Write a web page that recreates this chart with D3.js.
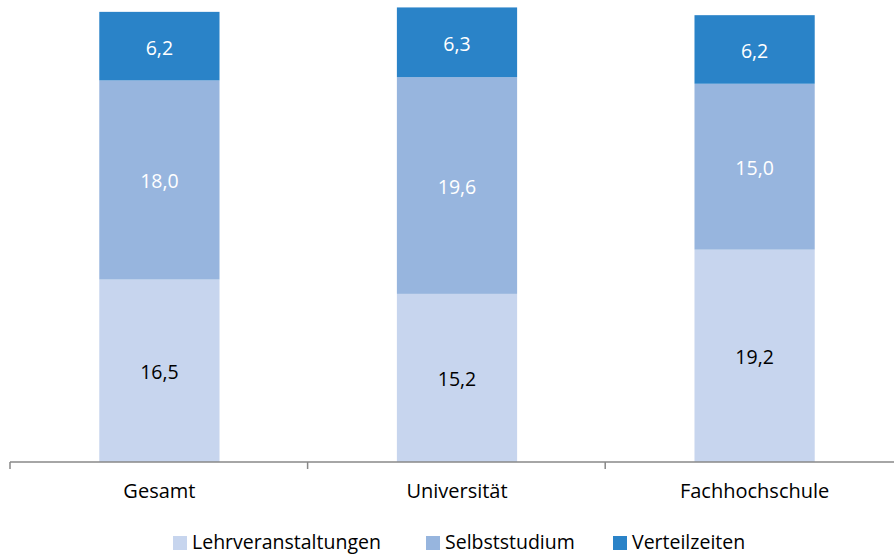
<!DOCTYPE html>
<html>
<head>
<meta charset="utf-8">
<script src="https://cdn.jsdelivr.net/npm/d3@7"></script>
<style>
  body { margin: 0; background: #fff; }
  svg text { font-family: "Open Sans", sans-serif; }
</style>
</head>
<body>
<div id="chart"></div>
<script>
// data
var categories = ["Gesamt", "Universität", "Fachhochschule"];
var seriesNames = ["Lehrveranstaltungen", "Selbststudium", "Verteilzeiten"];
var lehrveranstaltungen = [16.5, 15.2, 19.2];
var selbststudium = [18.0, 19.6, 15.0];
var verteilzeiten = [6.2, 6.3, 6.2];

var colors = ["#c7d5ee", "#97b5de", "#2a83c8"];
var labelColors = ["#000", "#fff", "#fff"];

var width = 894, height = 555;
var svg = d3.select("#chart").append("svg")
    .attr("width", width)
    .attr("height", height);

// build rows for d3.stack
var rows = categories.map(function(c, i) {
    return {
        cat: c,
        Lehrveranstaltungen: lehrveranstaltungen[i],
        Selbststudium: selbststudium[i],
        Verteilzeiten: verteilzeiten[i]
    };
});
var stacked = d3.stack().keys(seriesNames)(rows);

var x = d3.scaleBand()
    .domain(categories)
    .range([10, 904])
    .paddingInner(0.596)
    .paddingOuter(0.3);

var y = d3.scaleLinear()
    .domain([0, 45])
    .range([462, 462 - 45 * 11.06]);

var layers = svg.selectAll("g.layer")
    .data(stacked)
    .enter().append("g")
    .attr("class", "layer")
    .attr("fill", function(d, i) { return colors[i]; });

layers.selectAll("rect")
    .data(function(d) { return d; })
    .enter().append("rect")
    .attr("x", function(d) { return x(d.data.cat); })
    .attr("width", x.bandwidth())
    .attr("y", function(d) { return y(d[1]); })
    .attr("height", function(d) { return y(d[0]) - y(d[1]); });

// value labels
var fmt = function(v) { return d3.format(".1f")(v).replace(".", ","); };
layers.each(function(layer, li) {
    d3.select(this).selectAll("text")
        .data(layer)
        .enter().append("text")
        .attr("x", function(d) { return x(d.data.cat) + x.bandwidth() / 2; })
        .attr("y", function(d) { return (y(d[0]) + y(d[1])) / 2 + 1; })
        .attr("text-anchor", "middle")
        .attr("dominant-baseline", "central")
        .attr("font-size", 19.5)
        .attr("fill", labelColors[li])
        .text(function(d) { return fmt(d[1] - d[0]); });
});

// x axis: ticks between categories
var axis = svg.append("g").attr("class", "axis");
var axisColor = "#888";
axis.append("line")
    .attr("x1", 10).attr("x2", 904)
    .attr("y1", 462).attr("y2", 462)
    .attr("stroke", axisColor).attr("stroke-width", 1.5);

var tickPos = d3.range(categories.length + 1).map(function(i) { return 10 + i * x.step(); });
axis.selectAll("line.tick")
    .data(tickPos)
    .enter().append("line")
    .attr("class", "tick")
    .attr("x1", function(d) { return d; }).attr("x2", function(d) { return d; })
    .attr("y1", 462).attr("y2", 469)
    .attr("stroke", axisColor).attr("stroke-width", 1.5);

axis.selectAll("text")
    .data(categories)
    .enter().append("text")
    .attr("x", function(d) { return x(d) + x.bandwidth() / 2; })
    .attr("y", 498)
    .attr("text-anchor", "middle")
    .attr("font-size", 20)
    .attr("fill", "#000")
    .text(function(d) { return d; });

// legend
var legendX = [173, 426, 613];
var legend = svg.selectAll("g.legend")
    .data(seriesNames)
    .enter().append("g")
    .attr("class", "legend")
    .attr("transform", function(d, i) { return "translate(" + legendX[i] + ",536)"; });

legend.append("rect")
    .attr("width", 14).attr("height", 14)
    .attr("fill", function(d, i) { return colors[i]; });

legend.append("text")
    .attr("x", 19)
    .attr("y", 13)
    .attr("font-size", 19.5)
    .attr("fill", "#000")
    .text(function(d) { return d; });
</script>
</body>
</html>
